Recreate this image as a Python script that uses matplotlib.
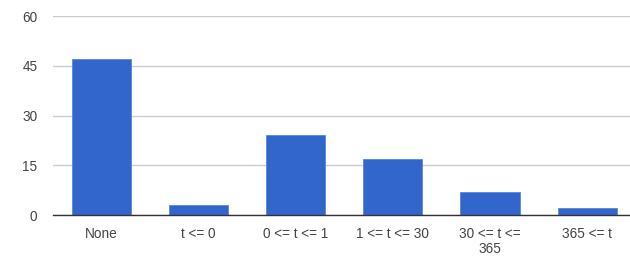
import matplotlib.pyplot as plt
import numpy as np

# Values
categories = ['None', 't <= 0', '0 <= t <= 1', '1 <= t <= 30', '30 <= t <=\n365', '365 <= t']
counts = [47, 3, 24, 17, 7, 2]
yticks = [0, 15, 30, 45, 60]

plt.rcParams['font.family'] = ['Liberation Sans', 'DejaVu Sans']

fig = plt.figure(figsize=(6.3, 2.57), dpi=100)
ax = fig.add_axes([0.0836, 0.1634, 0.9164, 0.7743])

x = np.arange(len(categories))
ax.bar(x, counts, width=0.61, color='#3366cc', edgecolor='#5b85d9', linewidth=0.6, zorder=3)

ax.set_xlim(-0.5, 5.44)
ax.set_ylim(0, 60)
ax.set_yticks(yticks)
ax.set_xticks(x)
ax.set_xticklabels(categories, linespacing=1.15)
ax.grid(axis='y', color='#cccccc', linewidth=1, zorder=0)

for s in ['top', 'right', 'left']:
    ax.spines[s].set_visible(False)
ax.spines['bottom'].set_color('#333333')
ax.spines['bottom'].set_linewidth(1)
ax.spines['bottom'].set_zorder(4)

ax.tick_params(axis='both', length=0, labelsize=9.8, labelcolor='#444444')
ax.tick_params(axis='x', pad=8.5)
ax.tick_params(axis='y', pad=11)

fig.savefig('out.png', dpi=100)
